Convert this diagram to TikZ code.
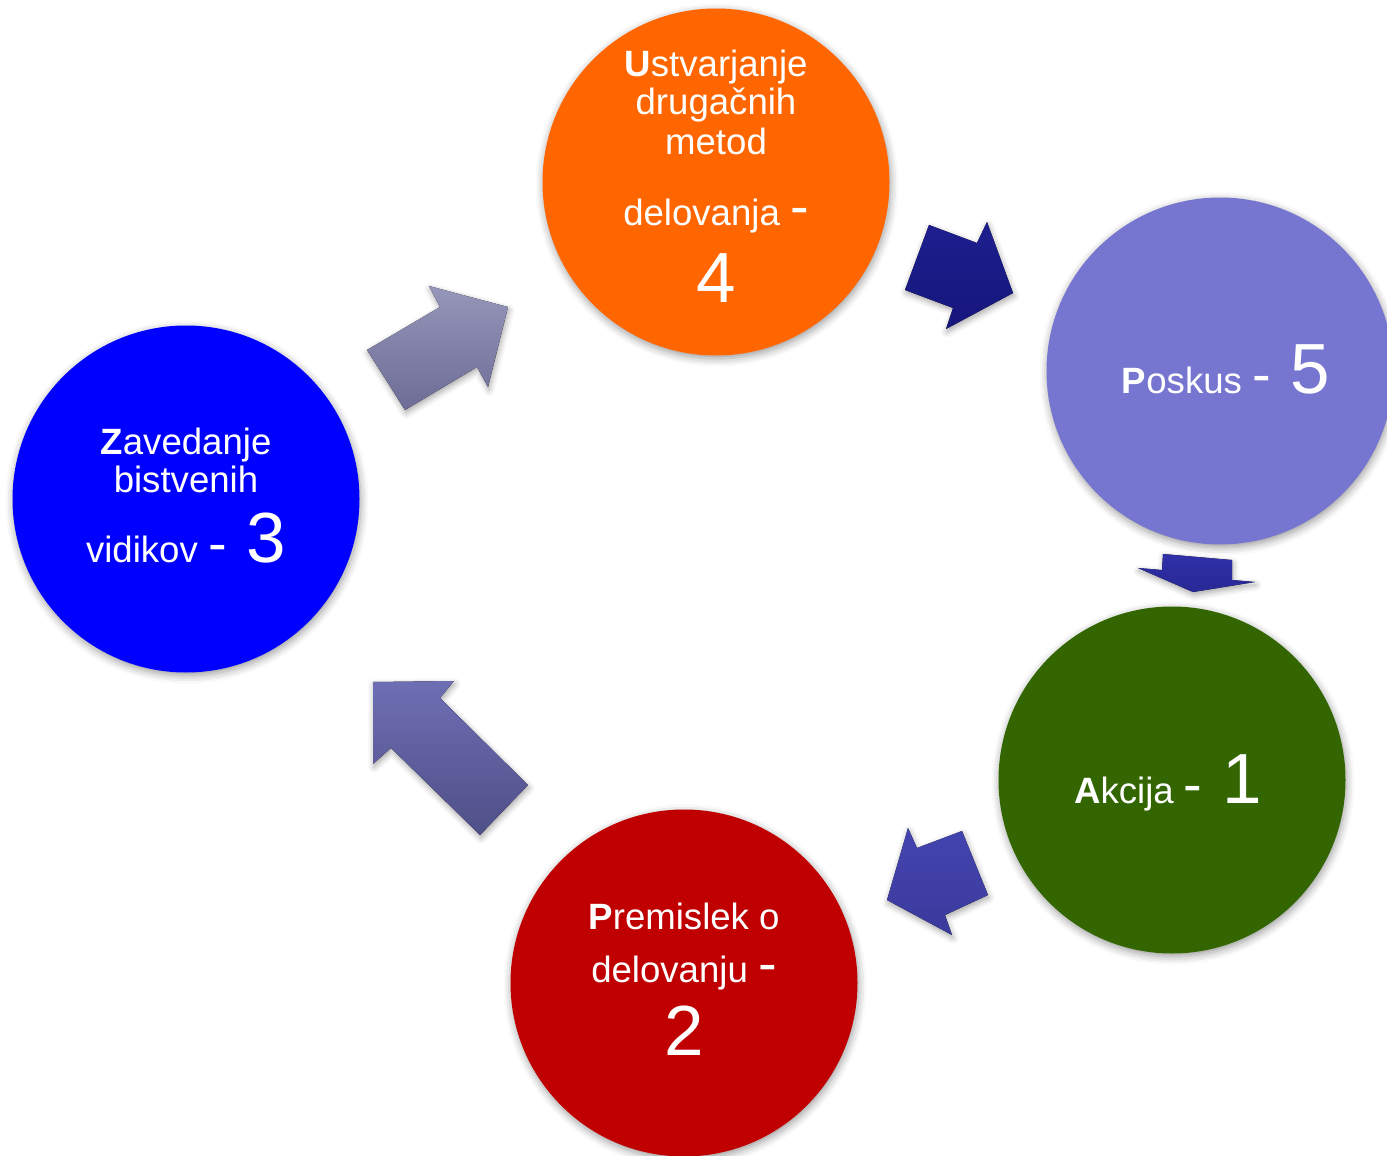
\documentclass[tikz,border=0pt]{standalone}
\usepackage{fontspec}
\setmainfont{Liberation Sans}
\usetikzlibrary{shadows.blur}

\definecolor{orng}{HTML}{FF6600}
\definecolor{lavnd}{HTML}{7676D0}
\definecolor{grn}{HTML}{336600}
\definecolor{rd}{HTML}{C00000}
\definecolor{blu}{HTML}{0000FF}
\definecolor{a34t}{RGB}{150,150,186}
\definecolor{a34b}{RGB}{108,108,150}
\definecolor{a45t}{RGB}{30,30,142}
\definecolor{a45b}{RGB}{22,22,124}
\definecolor{a51t}{RGB}{48,48,168}
\definecolor{a51b}{RGB}{40,40,150}
\definecolor{a12t}{RGB}{68,68,176}
\definecolor{a12b}{RGB}{58,58,156}
\definecolor{a23t}{RGB}{110,110,180}
\definecolor{a23b}{RGB}{79,79,136}

\newcommand{\txtfnt}{\fontsize{18.3}{20}\selectfont}
\newcommand{\dshfnt}{\fontsize{28}{30}\selectfont}
\newcommand{\numfnt}{\fontsize{35.5}{38}\selectfont}

\begin{document}
\begin{tikzpicture}[x=0.5pt,y=-0.5pt]
                	\useasboundingbox (0,0) rectangle (1387,1156);

                	\begin{scope}[arw/.style={blur shadow={shadow xshift=0.5pt, shadow yshift=-1.5pt, shadow blur radius=3pt, shadow opacity=35}}]
                		\fill[arw, top color=a34t, bottom color=a34b] (367,350) -- (405,410) -- (477,367) -- (488,387) -- (508,307) -- (429,286) -- (440,307) -- cycle;
                		\fill[arw, top color=a45t, bottom color=a45b] (929,225) -- (977,243) -- (987,222) -- (1013,293) -- (946,329) -- (953,308) -- (905,290) -- cycle;
                		\fill[arw, top color=a51t, bottom color=a51b] (1163,554) -- (1232,560) -- (1232,580) -- (1255,582) -- (1193,592) -- (1138,568) -- (1162,570) -- cycle;
                		\fill[arw, top color=a12t, bottom color=a12b] (962,831) -- (988,895) -- (945,915) -- (952,935) -- (887,900) -- (908,828) -- (917,848) -- cycle;
                		\fill[arw, top color=a23t, bottom color=a23b] (373,682) -- (454,681) -- (440,698) -- (528,785) -- (480,835) -- (391,748) -- (373,764) -- cycle;
                	\end{scope}

                	\begin{scope}[every node/.style={circle, minimum size=173.5pt, inner sep=0pt, blur shadow={shadow xshift=0.5pt, shadow yshift=-1.5pt, shadow blur radius=4pt, shadow opacity=40}}]
                		\foreach \n/\x/\y/\c in {1/1172/780/grn, 2/684/983/rd, 3/186/499/blu, 4/716/182/orng, 5/1220/371/lavnd}
                		{
                			\node[fill=\c] (c\n) at (\x,\y) {};
                		}
                	\end{scope}

                	\begin{scope}[every node/.style={anchor=base, text=white, font=\txtfnt, inner sep=0pt}]
                		\node (t4a) at (716,77) {\textbf{U}stvarjanje};
                		\node (t4b) at (716,115) {drugačnih};
                		\node (t4c) at (716,155) {metod};
                		\node (t4d) at (716,225) {delovanja {\dshfnt -}};
                		\node (t4e) at (716,302) {\numfnt 4};
                		\node (t5) at (1226,393) {\textbf{P}oskus {\dshfnt -}{\numfnt\ 5}};
                		\node (t1) at (1168,803) {\textbf{A}kcija {\dshfnt -}{\numfnt\ 1}};
                		\node (t2a) at (684,929) {\textbf{P}remislek o};
                		\node (t2b) at (684,982) {delovanju {\dshfnt -}};
                		\node (t2c) at (684,1055) {\numfnt 2};
                		\node (t3a) at (186,454) {\textbf{Z}avedanje};
                		\node (t3b) at (186,492) {bistvenih};
                		\node (t3c) at (186,562) {vidikov {\dshfnt -}{\numfnt\ 3}};
                	\end{scope}
\end{tikzpicture}
\end{document}
